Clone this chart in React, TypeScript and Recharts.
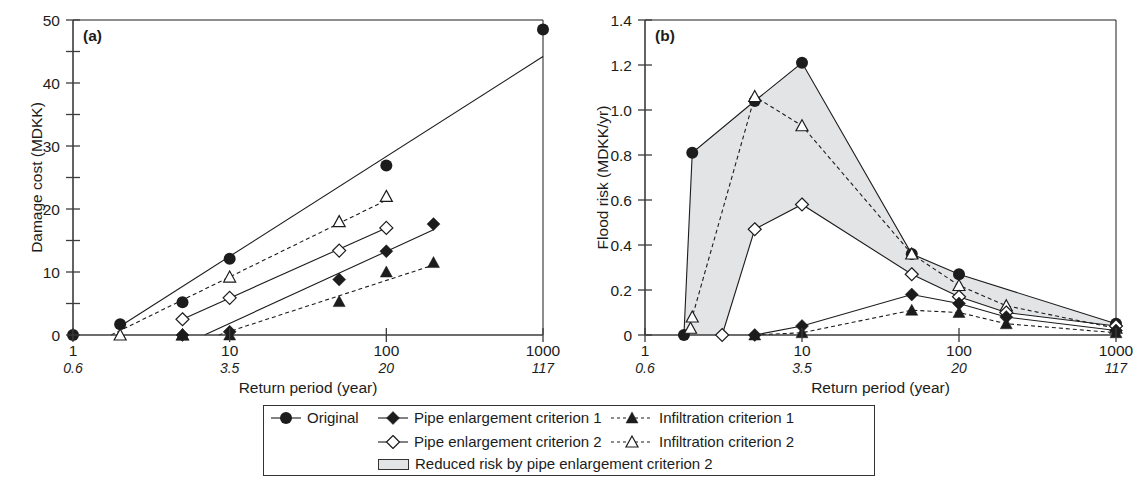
import {
  ComposedChart,
  Line,
  Area,
  Scatter,
  XAxis,
  YAxis,
  ReferenceLine,
} from "recharts";

// return periods on the log axis, with the rainfall depth printed underneath
const xTicks = [1, 10, 100, 1000];
const xSubLabels = ["0.6", "3.5", "20", "117"];
const costTicks = [0, 5, 10, 15, 20, 25, 30, 35, 40, 45, 50];
const riskTicks = [0, 0.2, 0.4, 0.6, 0.8, 1.0, 1.2, 1.4];

// (a) damage cost (MDKK)
const originalCost = [
  { x: 1, y: 0 },
  { x: 2, y: 1.7 },
  { x: 5, y: 5.2 },
  { x: 10, y: 12.1 },
  { x: 100, y: 26.9 },
  { x: 1000, y: 48.5 },
];
const pipe1Cost = [
  { x: 5, y: 0 },
  { x: 10, y: 0.5 },
  { x: 50, y: 8.8 },
  { x: 100, y: 13.3 },
  { x: 200, y: 17.6 },
];
const pipe2Cost = [
  { x: 5, y: 2.5 },
  { x: 10, y: 5.9 },
  { x: 50, y: 13.4 },
  { x: 100, y: 17 },
];
const infil1Cost = [
  { x: 5, y: 0 },
  { x: 10, y: 0 },
  { x: 50, y: 5.3 },
  { x: 100, y: 10 },
  { x: 200, y: 11.5 },
];
const infil2Cost = [
  { x: 2, y: 0 },
  { x: 5, y: 0 },
  { x: 10, y: 9.2 },
  { x: 50, y: 18 },
  { x: 100, y: 22 },
];

// fitted lines (end points) in panel (a)
const originalFit = [
  { x: 2, y: 1.4 },
  { x: 1000, y: 44.2 },
];
const pipe1Fit = [
  { x: 6.9, y: 0 },
  { x: 200, y: 16.7 },
];
const pipe2Fit = [
  { x: 5, y: 2.5 },
  { x: 100, y: 17 },
];
const infil1Fit = [
  { x: 8.5, y: 0 },
  { x: 200, y: 11.1 },
];
const infil2Fit = [
  { x: 1.75, y: 0 },
  { x: 100, y: 21.4 },
];

// (b) flood risk (MDKK/yr)
const originalRisk = [
  { x: 1.77, y: 0 },
  { x: 2, y: 0.81 },
  { x: 5, y: 1.04 },
  { x: 10, y: 1.21 },
  { x: 50, y: 0.36 },
  { x: 100, y: 0.27 },
  { x: 1000, y: 0.05 },
];
const pipe1Risk = [
  { x: 5, y: 0 },
  { x: 10, y: 0.04 },
  { x: 50, y: 0.18 },
  { x: 100, y: 0.14 },
  { x: 200, y: 0.08 },
  { x: 1000, y: 0.02 },
];
const pipe2Risk = [
  { x: 3.1, y: 0 },
  { x: 5, y: 0.47 },
  { x: 10, y: 0.58 },
  { x: 50, y: 0.27 },
  { x: 100, y: 0.17 },
  { x: 200, y: 0.1 },
  { x: 1000, y: 0.04 },
];
const infil1Risk = [
  { x: 5, y: 0 },
  { x: 10, y: 0.01 },
  { x: 50, y: 0.11 },
  { x: 100, y: 0.1 },
  { x: 200, y: 0.05 },
  { x: 1000, y: 0.01 },
];
const infil2Risk = [
  { x: 1.95, y: 0.03 },
  { x: 2, y: 0.08 },
  { x: 5, y: 1.06 },
  { x: 10, y: 0.93 },
  { x: 50, y: 0.36 },
  { x: 100, y: 0.22 },
  { x: 200, y: 0.13 },
  { x: 1000, y: 0.03 },
];

const FONT = "'Liberation Sans', Arial, sans-serif";
const FS = 15.5;
const INK = "#1c1c1c";
const AXIS = "#3c3c3c";
const BAND = "#e3e4e6";

type Kind = "circle" | "diamond" | "diamondOpen" | "tri" | "triOpen";

const Marker = ({ kind, cx, cy }: { kind: Kind; cx: number; cy: number }) => {
  if (cx == null || cy == null) return null;
  if (kind === "circle") return <circle cx={cx} cy={cy} r={6} fill={INK} />;
  if (kind === "diamond" || kind === "diamondOpen") {
    const s = 6.5;
    const open = kind === "diamondOpen";
    return (
      <polygon
        points={`${cx},${cy - s} ${cx + s},${cy} ${cx},${cy + s} ${cx - s},${cy}`}
        fill={open ? "#fff" : INK}
        stroke={INK}
        strokeWidth={open ? 1.2 : 0.5}
      />
    );
  }
  const open = kind === "triOpen";
  const h = 6;
  return (
    <polygon
      points={`${cx},${cy - h} ${cx + 6},${cy + h - 1} ${cx - 6},${cy + h - 1}`}
      fill={open ? "#fff" : INK}
      stroke={INK}
      strokeWidth={open ? 1.2 : 0.5}
    />
  );
};

const dotOf = (kind: Kind) => (p: any) =>
  <Marker key={`${kind}-${p.index}`} kind={kind} cx={p.cx} cy={p.cy} />;

const shapeOf = (kind: Kind) => (p: any) => <Marker kind={kind} cx={p.cx} cy={p.cy} />;

const XTick = ({ x, y, payload }: any) => {
  const i = xTicks.indexOf(payload.value);
  return (
    <g>
      <line x1={x} x2={x} y1={y - 7} y2={y + 7} stroke={AXIS} strokeWidth={1.3} />
      <text x={x} y={y + 21} textAnchor="middle" fontSize={FS} fill={INK} fontFamily={FONT}>
        {payload.value}
      </text>
      <text x={x} y={y + 38} textAnchor="middle" fontSize={14} fontStyle="italic" fill={INK} fontFamily={FONT}>
        {xSubLabels[i]}
      </text>
    </g>
  );
};

const CostTick = ({ x, y, payload }: any) => (
  <g>
    <line x1={x - 7} x2={x + 7} y1={y} y2={y} stroke={AXIS} strokeWidth={1.3} />
    {payload.value % 10 === 0 && (
      <text x={x - 13} y={y} dy={5.5} textAnchor="end" fontSize={FS} fill={INK} fontFamily={FONT}>
        {payload.value}
      </text>
    )}
  </g>
);

const RiskTick = ({ x, y, payload }: any) => (
  <g>
    <line x1={x - 7} x2={x + 7} y1={y} y2={y} stroke={AXIS} strokeWidth={1.3} />
    <text x={x - 13} y={y} dy={5.5} textAnchor="end" fontSize={FS} fill={INK} fontFamily={FONT}>
      {payload.value === 0 ? "0" : payload.value.toFixed(1)}
    </text>
  </g>
);

const YTitle = ({ text, x, y }: { text: string; x: number; y: number }) => (
  <text
    x={x}
    y={y}
    transform={`rotate(-90 ${x} ${y})`}
    textAnchor="middle"
    dominantBaseline="central"
    fontSize={FS}
    fill={INK}
    fontFamily={FONT}
  >
    {text}
  </text>
);

const xTitle = {
  value: "Return period (year)",
  position: "insideBottom" as const,
  offset: 7,
  fontSize: FS,
  fill: INK,
  fontFamily: FONT,
};

const panelLabel = (t: string) => ({
  value: t,
  position: "insideTopLeft" as const,
  offset: 10,
  fontSize: FS,
  fontWeight: "bold",
  fill: INK,
  fontFamily: FONT,
});

const lineProps = {
  type: "linear" as const,
  dataKey: "y",
  stroke: INK,
  strokeWidth: 1.1,
  isAnimationActive: false,
};

const CostChart = () => (
  <ComposedChart width={560} height={400} margin={{ top: 20, right: 17, bottom: 0, left: 0 }}>
    <XAxis
      type="number"
      dataKey="x"
      scale="log"
      domain={[1, 1000]}
      ticks={xTicks}
      tick={<XTick />}
      tickLine={false}
      tickSize={0}
      tickMargin={0}
      height={65}
      axisLine={{ stroke: AXIS, strokeWidth: 1.6 }}
      label={xTitle}
    />
    <YAxis
      type="number"
      dataKey="y"
      domain={[0, 50]}
      ticks={costTicks}
      tick={<CostTick />}
      tickLine={false}
      tickSize={0}
      tickMargin={0}
      width={73}
      axisLine={{ stroke: AXIS, strokeWidth: 1.6 }}
      label={<YTitle text="Damage cost (MDKK)" x={18} y={177} />}
    />
    <ReferenceLine y={50} stroke={INK} strokeWidth={1} label={panelLabel("(a)")} />
    <ReferenceLine x={1000} stroke={INK} strokeWidth={1} />

    <Line {...lineProps} data={originalFit} dot={false} />
    <Line {...lineProps} data={infil2Fit} dot={false} strokeDasharray="4 3" />
    <Line {...lineProps} data={pipe2Fit} dot={false} />
    <Line {...lineProps} data={pipe1Fit} dot={false} />
    <Line {...lineProps} data={infil1Fit} dot={false} strokeDasharray="4 3" />

    <Scatter data={originalCost} dataKey="y" shape={shapeOf("circle")} isAnimationActive={false} />
    <Scatter data={infil2Cost} dataKey="y" shape={shapeOf("triOpen")} isAnimationActive={false} />
    <Scatter data={pipe2Cost} dataKey="y" shape={shapeOf("diamondOpen")} isAnimationActive={false} />
    <Scatter data={infil1Cost} dataKey="y" shape={shapeOf("tri")} isAnimationActive={false} />
    <Scatter data={pipe1Cost} dataKey="y" shape={shapeOf("diamond")} isAnimationActive={false} />
  </ComposedChart>
);

const RiskChart = () => (
  <ComposedChart width={579} height={400} margin={{ top: 20, right: 23, bottom: 0, left: 0 }}>
    <XAxis
      type="number"
      dataKey="x"
      scale="log"
      domain={[1, 1000]}
      ticks={xTicks}
      tick={<XTick />}
      tickLine={false}
      tickSize={0}
      tickMargin={0}
      height={65}
      axisLine={{ stroke: AXIS, strokeWidth: 1.6 }}
      label={xTitle}
    />
    <YAxis
      type="number"
      dataKey="y"
      domain={[0, 1.4]}
      ticks={riskTicks}
      tick={<RiskTick />}
      tickLine={false}
      tickSize={0}
      tickMargin={0}
      width={85}
      axisLine={{ stroke: AXIS, strokeWidth: 1.6 }}
      label={<YTitle text="Flood risk (MDKK/yr)" x={28} y={177} />}
    />
    {/* grey band = area under original minus area under pipe enlargement 2 */}
    <Area type="linear" data={originalRisk} dataKey="y" stroke="none" fill={BAND} fillOpacity={1} isAnimationActive={false} />
    <Area type="linear" data={pipe2Risk} dataKey="y" stroke="none" fill="#fff" fillOpacity={1} isAnimationActive={false} />
    <ReferenceLine y={1.4} stroke={INK} strokeWidth={1} label={panelLabel("(b)")} />
    <ReferenceLine x={1000} stroke={INK} strokeWidth={1} />

    <Line {...lineProps} data={originalRisk} dot={dotOf("circle")} />
    <Line {...lineProps} data={infil2Risk} dot={dotOf("triOpen")} strokeDasharray="4 3" />
    <Line {...lineProps} data={pipe2Risk} dot={dotOf("diamondOpen")} />
    <Line {...lineProps} data={infil1Risk} dot={dotOf("tri")} strokeDasharray="4 3" />
    <Line {...lineProps} data={pipe1Risk} dot={dotOf("diamond")} />
  </ComposedChart>
);

const LegendSymbol = ({ kind, dashed }: { kind: Kind; dashed?: boolean }) => {
  const w = dashed ? 42 : 30;
  return (
    <svg width={w} height={14} style={{ display: "block", flex: "none" }}>
      <line x1={0} x2={w} y1={7} y2={7} stroke={INK} strokeWidth={1.1} strokeDasharray={dashed ? "3 3" : undefined} />
      <Marker kind={kind} cx={w / 2} cy={7} />
    </svg>
  );
};

const item = (left: number, top: number, sym: React.ReactNode, text: string) => (
  <div style={{ position: "absolute", left, top, display: "flex", alignItems: "center", gap: 6, whiteSpace: "nowrap" }}>
    {sym}
    <span>{text}</span>
  </div>
);

const LegendBox = () => (
  <div
    style={{
      position: "absolute",
      left: 263,
      top: 405,
      width: 612,
      height: 71,
      border: "1px solid #333",
      boxSizing: "border-box",
      fontFamily: FONT,
      fontSize: 15,
      color: INK,
      lineHeight: "18px",
    }}
  >
    {item(7, 3, <LegendSymbol kind="circle" />, "Original")}
    {item(114, 3, <LegendSymbol kind="diamond" />, "Pipe enlargement criterion 1")}
    {item(347, 3, <LegendSymbol kind="tri" dashed />, "Infiltration criterion 1")}
    {item(114, 27, <LegendSymbol kind="diamondOpen" />, "Pipe enlargement criterion 2")}
    {item(347, 27, <LegendSymbol kind="triOpen" dashed />, "Infiltration criterion 2")}
    {item(
      114,
      49,
      <div style={{ width: 31, height: 11, background: BAND, border: "1px solid #333", boxSizing: "border-box", flex: "none" }} />,
      "Reduced risk by pipe enlargement criterion 2"
    )}
  </div>
);

export default function App() {
  return (
    <div style={{ position: "absolute", left: 0, top: 0, width: 1139, height: 494, background: "#fff" }}>
      <div style={{ position: "absolute", left: 0, top: 0 }}>
        <CostChart />
      </div>
      <div style={{ position: "absolute", left: 560, top: 0 }}>
        <RiskChart />
      </div>
      <LegendBox />
    </div>
  );
}
